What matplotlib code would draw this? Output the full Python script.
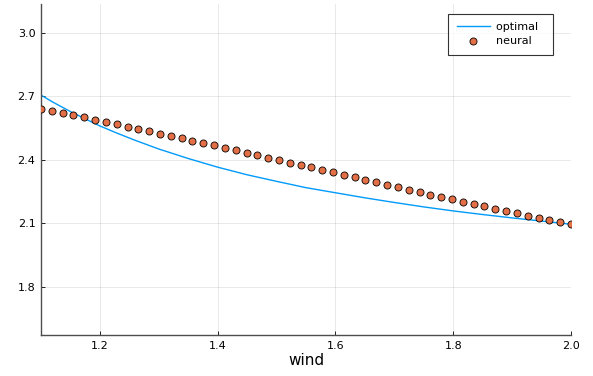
import numpy as np
import matplotlib
matplotlib.use("Agg")
import matplotlib.pyplot as plt

# optimal curve
wind_opt = [1.10, 1.12, 1.15, 1.18, 1.20, 1.23, 1.26, 1.30, 1.35, 1.40, 1.45,
            1.50, 1.55, 1.60, 1.65, 1.70, 1.75, 1.80, 1.85, 1.90, 1.95, 2.00]
optimal = [2.706, 2.673, 2.628, 2.587, 2.560, 2.525, 2.492, 2.451, 2.406,
           2.365, 2.329, 2.298, 2.268, 2.244, 2.220, 2.198, 2.177, 2.158,
           2.141, 2.125, 2.110, 2.095]

# neural net predictions, 50 evenly spaced wind values
wind_nn = np.linspace(1.1, 2.0, 50)
neural = [2.642, 2.632, 2.621, 2.611, 2.601, 2.590, 2.579, 2.568, 2.557, 2.547,
          2.536, 2.523, 2.514, 2.503, 2.491, 2.480, 2.469, 2.456, 2.445, 2.434,
          2.423, 2.410, 2.398, 2.387, 2.375, 2.364, 2.352, 2.340, 2.330, 2.317,
          2.303, 2.295, 2.283, 2.271, 2.258, 2.247, 2.235, 2.226, 2.213, 2.202,
          2.191, 2.180, 2.168, 2.156, 2.147, 2.135, 2.125, 2.114, 2.104, 2.095]

xticks = [1.2, 1.4, 1.6, 1.8, 2.0]
yticks = [1.8, 2.1, 2.4, 2.7, 3.0]

fig = plt.figure(figsize=(5.93, 3.76), dpi=100)
ax = fig.add_axes([41 / 593, 1 - 335 / 376, 530 / 593, 331 / 376])

ax.plot(wind_opt, optimal, color="#009AFA", lw=1.0, label="optimal  ", zorder=2)
ax.scatter(wind_nn, neural, s=26, color="#E26F46", edgecolors="black",
           linewidths=0.6, label="neural  ", zorder=3)

ax.set_xlim(1.1, 2.0)
ax.set_ylim(1.571, 3.137)
ax.set_xticks(xticks)
ax.set_yticks(yticks)
ax.set_xticklabels([f"{t:.1f}" for t in xticks])
ax.set_yticklabels([f"{t:.1f}" for t in yticks])
ax.tick_params(direction="in", length=3, width=0.6, labelsize=8, pad=4,
               colors="black")
ax.grid(True, color="black", alpha=0.1, lw=0.6)

for side in ["top", "right"]:
    ax.spines[side].set_visible(False)
for side in ["left", "bottom"]:
    ax.spines[side].set_color("0.3")
    ax.spines[side].set_linewidth(1.0)

ax.set_xlabel("wind", fontsize=11, labelpad=2)

# legend box: upper right corner at pixel (553, 14)
leg = ax.legend(loc="upper right", bbox_to_anchor=(553 / 593, 1 - 14 / 376),
                bbox_transform=fig.transFigure, borderaxespad=0,
                fontsize=8, frameon=True, fancybox=False, handlelength=3.0,
                borderpad=0.75, labelspacing=0.35, handletextpad=0.5)
leg.get_frame().set_edgecolor("black")
leg.get_frame().set_linewidth(0.8)

fig.savefig("out.png", dpi=100)
